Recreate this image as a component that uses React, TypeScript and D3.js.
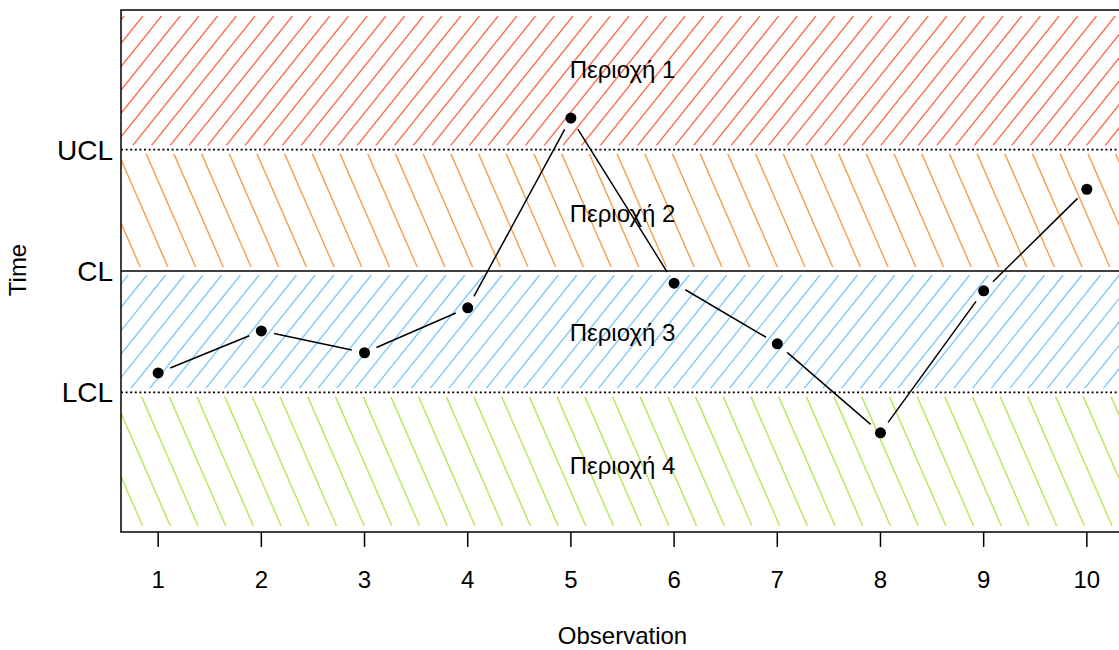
import React from 'react';
import * as d3 from 'd3';

// observations, in sigma units around the centre line
const observations = [1, 2, 3, 4, 5, 6, 7, 8, 9, 10];
const values = [-2.52, -1.48, -2.02, -0.91, 3.78, -0.3, -1.8, -4.0, -0.49, 2.02];

// control limits
const limitNames = ['UCL', 'CL', 'LCL'];
const limitValues = [3, 0, -3];

// zones
const zoneNames = ['Περιοχή 1', 'Περιοχή 2', 'Περιοχή 3', 'Περιοχή 4'];
const zoneTop = [6.3, 3, 0, -3];
const zoneBottom = [3, 0, -3, -6.3];
const zoneLabelAt = [4.99, 1.43, -1.51, -4.81];
const zoneColors = ['#ff6a4f', '#f5a04a', '#80c8f5', '#b6e855'];

// hatch look: slope (dy/dx, + = rising), horizontal spacing, an anchor point in px
const hatch = [
  { slope: 1.25, gap: 18.7, ax: 121, ay: 43.3 },
  { slope: -2.29, gap: 27.7, ax: 146.7, ay: 155 },
  { slope: 1.25, gap: 18.7, ax: 121, ay: 284 },
  { slope: -2.29, gap: 27.7, ax: 121, ay: 413 },
];

const W = 1119;
const H = 650;
const left = 121;
const right = 1124;
const top = 10;
const bottom = 532;
const font = '"Liberation Sans", Arial, sans-serif';

const x = d3.scaleLinear().domain([0.64, 10.36]).range([left, right]);
const y = d3.scaleLinear().domain([-6.45, 6.45]).range([bottom, top]);

function hatchLines(i: number, y0: number, y1: number) {
  const h = hatch[i];
  const m = Math.abs(h.slope);
  const rising = h.slope > 0;
  const span = (y1 - y0) / m;
  const kMin = Math.floor((left - span - h.ax) / h.gap) - 2;
  const kMax = Math.ceil((right + span - h.ax) / h.gap) + 2;
  const lines: { x1: number; y1: number; x2: number; y2: number }[] = [];
  for (let k = kMin; k <= kMax; k++) {
    const base = h.ax + k * h.gap;
    const xAt = (yy: number) => (rising ? base + (h.ay - yy) / m : base + (yy - h.ay) / m);
    lines.push({ x1: xAt(y0), y1: y0, x2: xAt(y1), y2: y1 });
  }
  return lines;
}

const App = () => {
  const pts = observations.map((o, i) => ({ px: x(o), py: y(values[i]) }));
  const segs = d3.pairs(pts).map(([a, b]) => {
    const dx = b.px - a.px;
    const dy = b.py - a.py;
    const len = Math.hypot(dx, dy);
    const g = 13;
    return {
      x1: a.px + (dx / len) * g,
      y1: a.py + (dy / len) * g,
      x2: b.px - (dx / len) * g,
      y2: b.py - (dy / len) * g,
    };
  });

  return (
    <svg width={W} height={H} style={{ position: 'absolute', left: 0, top: 0, background: '#fff' }} fontFamily={font}>
      <defs>
        {zoneNames.map((_, i) => {
          const y0 = y(zoneTop[i]) + (i === 0 ? 0 : 4);
          const y1 = y(zoneBottom[i]) - (i === 3 ? 0 : 4);
          return (
            <clipPath id={`zone${i}`} key={i}>
              <rect x={left} y={y0} width={right - left} height={y1 - y0} />
            </clipPath>
          );
        })}
      </defs>

      {zoneNames.map((_, i) => {
        const y0 = y(zoneTop[i]) + (i === 0 ? 0 : 4);
        const y1 = y(zoneBottom[i]) - (i === 3 ? 0 : 4);
        return (
          <g key={i} clipPath={`url(#zone${i})`}>
            {hatchLines(i, y0, y1).map((l, j) => (
              <line key={j} {...l} stroke={zoneColors[i]} strokeWidth={1.4} />
            ))}
          </g>
        );
      })}

      {zoneNames.map((name, i) => (
        <text key={name} x={(left + right) / 2} y={y(zoneLabelAt[i])} dy="0.36em" textAnchor="middle" fontSize={24}>
          {name}
        </text>
      ))}

      {limitValues.map((v, i) => (
        <line
          key={limitNames[i]}
          x1={left}
          x2={right}
          y1={y(v)}
          y2={y(v)}
          stroke="#000"
          strokeWidth={limitNames[i] === 'CL' ? 1.5 : 1.6}
          strokeDasharray={limitNames[i] === 'CL' ? undefined : '2,2.6'}
        />
      ))}

      {segs.map((s, i) => (
        <line key={i} {...s} stroke="#000" strokeWidth={1.5} />
      ))}
      {pts.map((p, i) => (
        <circle key={i} cx={p.px} cy={p.py} r={5.5} fill="#000" />
      ))}

      <rect x={left} y={top} width={right - left} height={bottom - top} fill="none" stroke="#000" strokeWidth={1.5} />

      {observations.map((o) => (
        <g key={o}>
          <line x1={x(o)} x2={x(o)} y1={bottom} y2={bottom + 15} stroke="#000" strokeWidth={1.5} />
          <text x={x(o)} y={588} textAnchor="middle" fontSize={24}>
            {o}
          </text>
        </g>
      ))}

      {limitValues.map((v, i) => (
        <text key={limitNames[i]} x={113} y={y(v)} dy="0.36em" textAnchor="end" fontSize={28}>
          {limitNames[i]}
        </text>
      ))}

      <text x={(left + right) / 2} y={644} textAnchor="middle" fontSize={24}>
        Observation
      </text>
      <text transform="translate(26,270) rotate(-90)" textAnchor="middle" fontSize={24}>
        Time
      </text>
    </svg>
  );
};

export default App;
